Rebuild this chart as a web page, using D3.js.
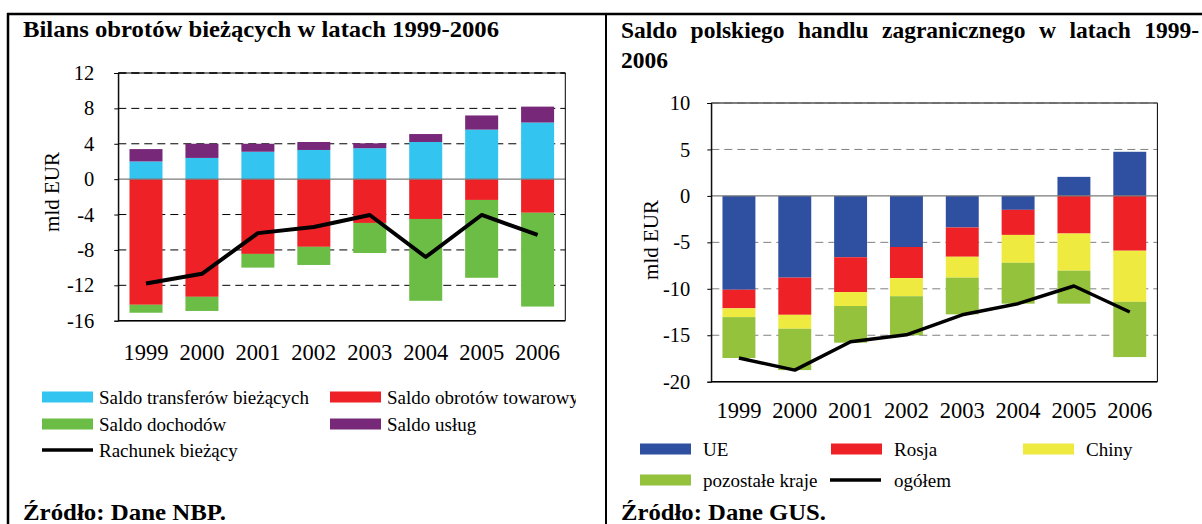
<!DOCTYPE html>
<html>
<head>
<meta charset="utf-8">
<script src="https://cdn.jsdelivr.net/npm/d3@7"></script>
<style>
    body { margin: 0; background: #fff; }
    svg { display: block; }
    svg text { font-family: "Liberation Serif", "Times New Roman", serif; }
</style>
</head>
<body>
<div id="chart"></div>
<script>
// Left chart: current account balance (mld EUR)
const years = ["1999", "2000", "2001", "2002", "2003", "2004", "2005", "2006"];
const transfers = [2.0, 2.4, 3.1, 3.3, 3.5, 4.2, 5.6, 6.4];
const goods = [-14.2, -13.3, -8.45, -7.65, -4.95, -4.5, -2.35, -3.8];
const income = [-0.9, -1.6, -1.55, -2.05, -3.4, -9.25, -8.8, -10.6];
const services = [1.4, 1.6, 0.9, 0.9, 0.55, 0.9, 1.6, 1.8];
const currentAccount = [-11.8, -10.7, -6.1, -5.4, -4.05, -8.8, -4.05, -6.3];
const leftTicks = [12, 8, 4, 0, -4, -8, -12, -16];

// Right chart: Polish foreign trade balance (mld EUR)
const ue = [-10.1, -8.8, -6.6, -5.5, -3.4, -1.5, 2.05, 4.75];
const rosja = [-2.0, -4.0, -3.75, -3.35, -3.15, -2.7, -4.05, -5.9];
const chiny = [-0.95, -1.5, -1.5, -1.95, -2.25, -3.0, -4.0, -5.5];
const pozostale = [-4.4, -4.45, -3.95, -4.2, -3.95, -4.4, -3.55, -5.95];
const ogolem = [-17.45, -18.75, -15.7, -14.95, -12.8, -11.6, -9.7, -12.5];
const rightTicks = [10, 5, 0, -5, -10, -15, -20];

const FONT = "Liberation Serif";

const svg = d3.select("#chart").append("svg")
    .attr("width", 1202)
    .attr("height", 524);

// outer table frame
svg.append("line").attr("x1", 7).attr("x2", 1202).attr("y1", 14).attr("y2", 14)
    .attr("stroke", "#000").attr("stroke-width", 2.5);
svg.append("line").attr("x1", 8).attr("x2", 8).attr("y1", 13).attr("y2", 524)
    .attr("stroke", "#000").attr("stroke-width", 2.5);
svg.append("line").attr("x1", 606).attr("x2", 606).attr("y1", 13).attr("y2", 524)
    .attr("stroke", "#000").attr("stroke-width", 2);

function drawPanel(cfg) {
    let g = svg.append("g").attr("font-family", FONT);

    let rows = years.map((y, i) => {
        let r = { year: y };
        cfg.series.forEach(s => r[s.key] = s.values[i]);
        return r;
    });

    let stack = d3.stack()
        .keys(cfg.series.map(s => s.key))
        .offset(d3.stackOffsetDiverging);
    let layers = stack(rows);

    let x = d3.scaleBand()
        .domain(years)
        .range([cfg.left, cfg.right])
        .paddingInner(0.41)
        .paddingOuter(0.2);

    let y = d3.scaleLinear()
        .domain([cfg.ticks[cfg.ticks.length - 1], cfg.ticks[0]])
        .range([cfg.bottom, cfg.top]);

    // gridlines
    g.append("g")
        .selectAll("line")
        .data(cfg.ticks.filter(t => t !== 0 && t !== cfg.ticks[cfg.ticks.length - 1]))
        .enter().append("line")
        .attr("x1", cfg.left).attr("x2", cfg.right)
        .attr("y1", d => y(d)).attr("y2", d => y(d))
        .attr("stroke", cfg.gridColor)
        .attr("stroke-width", 1)
        .attr("stroke-dasharray", "8,5");

    // bars
    g.selectAll("g.layer")
        .data(layers)
        .enter().append("g")
        .attr("class", "layer")
        .attr("fill", (d, i) => cfg.series[i].color)
        .selectAll("rect")
        .data(d => d)
        .enter().append("rect")
        .attr("x", d => x(d.data.year))
        .attr("width", x.bandwidth())
        .attr("y", d => y(d[1]))
        .attr("height", d => Math.max(0, y(d[0]) - y(d[1])));

    // zero line
    g.append("line")
        .attr("x1", cfg.left).attr("x2", cfg.right)
        .attr("y1", y(0)).attr("y2", y(0))
        .attr("stroke", "#7a7a7a").attr("stroke-width", 1.2);

    // plot frame
    g.append("path")
        .attr("d", `M${cfg.left},${cfg.top}H${cfg.right}V${cfg.bottom}H${cfg.left}Z`)
        .attr("fill", "none")
        .attr("stroke", "#000")
        .attr("stroke-width", 1);
    g.append("line")
        .attr("x1", cfg.left).attr("x2", cfg.right)
        .attr("y1", cfg.top).attr("y2", cfg.top)
        .attr("stroke", cfg.gridColor)
        .attr("stroke-dasharray", "8,5");
    g.append("line")
        .attr("x1", cfg.left).attr("x2", cfg.right)
        .attr("y1", cfg.bottom).attr("y2", cfg.bottom)
        .attr("stroke", "#000").attr("stroke-width", 1.5);

    // y axis (plain hyphen for negatives, like the original)
    let yAxis = d3.axisLeft(y)
        .tickValues(cfg.ticks)
        .tickSize(4)
        .tickPadding(cfg.tickPad)
        .tickFormat(d => String(d));
    let ya = g.append("g")
        .attr("transform", `translate(${cfg.left},0)`)
        .call(yAxis)
        .attr("font-family", FONT);
    ya.select(".domain").attr("stroke", "#000");
    ya.selectAll("text")
        .attr("font-size", 20.5)
        .attr("fill", "#000");
    ya.selectAll(".tick line").attr("stroke", "#000");

    // x axis
    let xAxis = d3.axisBottom(x).tickSize(0).tickPadding(cfg.xPad);
    let xa = g.append("g")
        .attr("transform", `translate(0,${cfg.bottom})`)
        .call(xAxis)
        .attr("font-family", FONT);
    xa.select(".domain").remove();
    xa.selectAll("text")
        .attr("font-size", 22.5)
        .attr("fill", "#000");

    // total line
    let line = d3.line()
        .x((d, i) => x(years[i]) + x.bandwidth() / 2)
        .y(d => y(d));
    g.append("path")
        .datum(cfg.total.values)
        .attr("fill", "none")
        .attr("stroke", "#000")
        .attr("stroke-width", cfg.total.width)
        .attr("stroke-linejoin", "round")
        .attr("d", line);

    // y title
    g.append("text")
        .attr("transform", `translate(${cfg.yTitle[0]},${cfg.yTitle[1]}) rotate(-90)`)
        .attr("text-anchor", "middle")
        .attr("dy", "0.35em")
        .attr("font-size", 21)
        .text("mld EUR");

    // legend
    let legend = g.append("g");
    if (cfg.legendClip) {
        svg.append("clipPath").attr("id", cfg.legendClip.id)
            .append("rect").attr("x", 0).attr("y", 0)
            .attr("width", cfg.legendClip.x).attr("height", 524);
        legend.attr("clip-path", `url(#${cfg.legendClip.id})`);
    }
    cfg.legend.forEach(item => {
        if (item.line) {
            legend.append("line")
                .attr("x1", item.x).attr("x2", item.x + 51)
                .attr("y1", item.y).attr("y2", item.y)
                .attr("stroke", "#000").attr("stroke-width", 3.5);
        } else {
            legend.append("rect")
                .attr("x", item.x).attr("y", item.y - 5.5)
                .attr("width", 51).attr("height", 11)
                .attr("fill", item.color);
        }
        legend.append("text")
            .attr("x", item.x + item.tx)
            .attr("y", item.y)
            .attr("dy", "0.35em")
            .attr("font-size", 19)
            .text(item.label);
    });

    // title
    let title = g.append("g");
    cfg.title.forEach(t => {
        let txt = title.append("text")
            .attr("x", t.x).attr("y", t.y)
            .attr("font-size", 23.5)
            .attr("font-weight", "bold")
            .text(t.text);
        if (t.fit) {
            let w = txt.node().getComputedTextLength();
            let gaps = t.text.split(" ").length - 1;
            txt.attr("word-spacing", Math.max(0, (t.fit - w) / gaps));
        }
        if (t.len) {
            txt.attr("textLength", t.len).attr("lengthAdjust", "spacingAndGlyphs");
        }
    });

    g.append("text")
        .attr("x", cfg.title[0].x).attr("y", 520)
        .attr("font-size", 23)
        .attr("font-weight", "bold")
        .attr("textLength", cfg.sourceLen)
        .attr("lengthAdjust", "spacingAndGlyphs")
        .text(cfg.source);
}

drawPanel({
    left: 118.3, right: 565.3, top: 73, bottom: 320.7,
    ticks: leftTicks, tickPad: 20, xPad: 23,
    gridColor: "#000",
    series: [
        { key: "transfers", values: transfers, color: "#33c4ef" },
        { key: "goods", values: goods, color: "#ee2226" },
        { key: "income", values: income, color: "#6cbd46" },
        { key: "services", values: services, color: "#772878" }
    ],
    total: { values: currentAccount, width: 4 },
    yTitle: [52, 192],
    legend: [
        { label: "Saldo transferów bieżących", color: "#33c4ef", x: 42, y: 397, tx: 57 },
        { label: "Saldo obrotów towarowych", color: "#ee2226", x: 330, y: 397, tx: 57 },
        { label: "Saldo dochodów", color: "#6cbd46", x: 42, y: 424, tx: 57 },
        { label: "Saldo usług", color: "#772878", x: 330, y: 424, tx: 57 },
        { label: "Rachunek bieżący", line: true, x: 42, y: 450, tx: 57 }
    ],
    legendClip: { id: "clipLeft", x: 576 },
    title: [{ text: "Bilans obrotów bieżących w latach 1999-2006", x: 23, y: 37, len: 476 }],
    source: "Źródło: Dane NBP.",
    sourceLen: 203
});

drawPanel({
    left: 711.3, right: 1157.4, top: 103, bottom: 381.7,
    ticks: rightTicks, tickPad: 17, xPad: 20,
    gridColor: "#808080",
    series: [
        { key: "ue", values: ue, color: "#2f4fa1" },
        { key: "rosja", values: rosja, color: "#ee2226" },
        { key: "chiny", values: chiny, color: "#eeea40" },
        { key: "pozostale", values: pozostale, color: "#94c23c" }
    ],
    total: { values: ogolem, width: 3.5 },
    yTitle: [651, 240],
    legend: [
        { label: "UE", color: "#2f4fa1", x: 640, y: 449, tx: 63 },
        { label: "Rosja", color: "#ee2226", x: 831, y: 449, tx: 63 },
        { label: "Chiny", color: "#eeea40", x: 1023, y: 449, tx: 63 },
        { label: "pozostałe kraje", color: "#94c23c", x: 640, y: 480, tx: 63 },
        { label: "ogółem", line: true, x: 830, y: 480, tx: 64 }
    ],
    title: [
        { text: "Saldo polskiego handlu zagranicznego w latach 1999-", x: 621, y: 38, fit: 578 },
        { text: "2006", x: 621, y: 68 }
    ],
    source: "Źródło: Dane GUS.",
    sourceLen: 205
});
</script>
</body>
</html>
